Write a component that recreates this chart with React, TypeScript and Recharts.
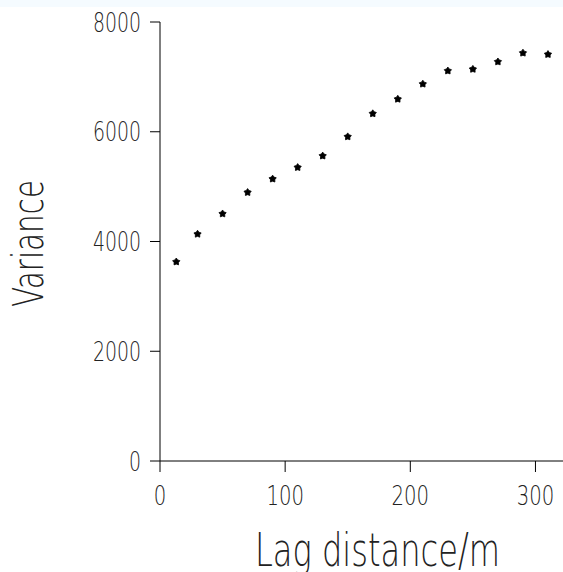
import { ScatterChart, Scatter, XAxis, YAxis, Label } from "recharts";

const lagDistance = [13, 30, 50, 70, 90, 110, 130, 150, 170, 190, 210, 230, 250, 270, 290, 310];
const variance = [3630, 4135, 4505, 4895, 5140, 5350, 5560, 5910, 6330, 6595, 6870, 7110, 7140, 7275, 7435, 7410];
const xTicks = [0, 100, 200, 300];
const yTicks = [0, 2000, 4000, 6000, 8000];

const points = lagDistance.map((lag, i) => ({ lag, v: variance[i] }));

const FONT = "'DejaVu Sans', sans-serif";
const INK = "#222";

const XTick = (props: any) => {
  const { x, y, payload } = props;
  const s = String(payload.value);
  return (
    <text x={x} y={y + 31} textAnchor="middle" fontFamily={FONT} fontWeight={200} fontSize={27} fill={INK}
      textLength={s.length * 12.5} lengthAdjust="spacingAndGlyphs">
      {s}
    </text>
  );
};

const YTick = (props: any) => {
  const { x, y, payload } = props;
  const s = String(payload.value);
  return (
    <text x={x - 7} y={y + 9.5} textAnchor="end" fontFamily={FONT} fontWeight={200} fontSize={26} fill={INK}
      textLength={s.length * 12} lengthAdjust="spacingAndGlyphs">
      {s}
    </text>
  );
};

const Dot = (props: any) => {
  const { cx, cy } = props;
  const r = 3.8;
  const pts = [];
  for (let k = 0; k < 10; k++) {
    const a = (Math.PI / 5) * k - Math.PI / 2;
    const rr = k % 2 === 0 ? r : r * 0.6;
    pts.push(`${cx + rr * Math.cos(a)},${cy + rr * Math.sin(a)}`);
  }
  return <polygon points={pts.join(" ")} fill="#000" stroke="#000" strokeWidth={0.8} />;
};

export default function App() {
  return (
    <div style={{ position: "absolute", left: 0, top: 0, width: 563, height: 572, background: "#fff" }}>
      <div style={{ position: "absolute", left: 0, top: 0, width: 563, height: 7, background: "#f5fbff" }} />
      <ScatterChart width={563} height={572} margin={{ top: 22, right: 0, bottom: 0, left: 0 }}>
        <XAxis
          type="number"
          dataKey="lag"
          domain={[0, 322]}
          ticks={xTicks}
          allowDataOverflow
          height={111}
          tickSize={11}
          stroke="#000"
          tick={<XTick />}
        >
          <Label
            content={() => (
              <text x={255} y={566} fontFamily={FONT} fontWeight={200} fontSize={46} fill={INK} textLength={245} lengthAdjust="spacingAndGlyphs">
                Lag distance/m
              </text>
            )}
          />
        </XAxis>
        <YAxis
          type="number"
          dataKey="v"
          domain={[0, 8000]}
          ticks={yTicks}
          width={160}
          tickSize={10}
          stroke="#000"
          tick={<YTick />}
        >
          <Label
            content={() => (
              <text
                x={0}
                y={0}
                transform="translate(43,307) rotate(-90)"
                fontFamily={FONT}
                fontWeight={200}
                fontSize={42}
                fill={INK}
                textLength={127}
                lengthAdjust="spacingAndGlyphs"
              >
                Variance
              </text>
            )}
          />
        </YAxis>
        <Scatter data={points} shape={<Dot />} isAnimationActive={false} />
      </ScatterChart>
    </div>
  );
}
